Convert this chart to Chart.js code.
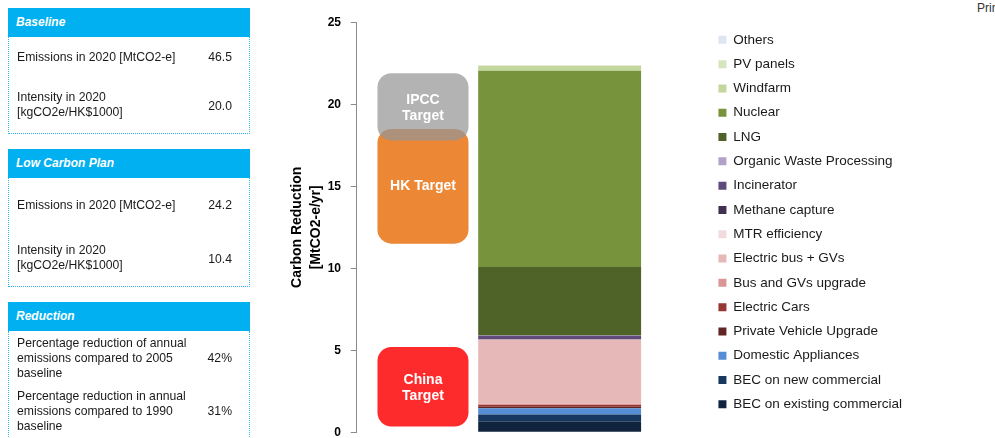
<!DOCTYPE html>
<html>
<head>
<meta charset="utf-8">
<script src="https://cdn.jsdelivr.net/npm/chart.js@4.4.0/dist/chart.umd.min.js"></script>
<style>
  html, body { margin: 0; padding: 0; background: #fff; }
  body { width: 995px; height: 438px; position: relative; overflow: hidden;
         font-family: "Liberation Sans", Arial, sans-serif; color: #1a1a1a; }
  .panel { position: absolute; left: 8px; width: 242px; z-index: 2; }
  .head { background: #00b0f0; color: #fff; font-weight: bold; font-style: italic;
          font-size: 12px; height: 29px; line-height: 29px; padding-left: 8px; }
  .body { position: relative; border: 1px dotted #2fb6ee; border-top: none; box-sizing: border-box; }
  .txt { position: absolute; left: 8px; font-size: 12.2px; line-height: 15px; white-space: nowrap; }
  .val { position: absolute; right: 17px; font-size: 12.2px; line-height: 15px; }
  #chart { position: absolute; left: 0; top: 0; z-index: 1; }
  #print { position: absolute; left: 977px; top: 1px; font-size: 12px; color: #333; white-space: nowrap; }
</style>
</head>
<body>

<div class="panel" style="top:8px">
  <div class="head">Baseline</div>
  <div class="body" style="height:97px">
    <div class="txt" style="top:13px">Emissions in 2020 [MtCO2-e]</div>
    <div class="val" style="top:13px">46.5</div>
    <div class="txt" style="top:53px">Intensity in 2020<br>[kgCO2e/HK$1000]</div>
    <div class="val" style="top:62px">20.0</div>
  </div>
</div>

<div class="panel" style="top:149px">
  <div class="head">Low Carbon Plan</div>
  <div class="body" style="height:109px">
    <div class="txt" style="top:20px">Emissions in 2020 [MtCO2-e]</div>
    <div class="val" style="top:20px">24.2</div>
    <div class="txt" style="top:65px">Intensity in 2020<br>[kgCO2e/HK$1000]</div>
    <div class="val" style="top:74px">10.4</div>
  </div>
</div>

<div class="panel" style="top:302px">
  <div class="head">Reduction</div>
  <div class="body" style="height:140px">
    <div class="txt" style="top:5px">Percentage reduction of annual<br>emissions compared to 2005<br>baseline</div>
    <div class="val" style="top:20px">42%</div>
    <div class="txt" style="top:58px">Percentage reduction in annual<br>emissions compared to 1990<br>baseline</div>
    <div class="val" style="top:73px">31%</div>
  </div>
</div>

<div id="print">Print</div>

<canvas id="chart" width="912" height="438"></canvas>

<script>
// x = 1 for the targets column, x = 2 for the plan column
const categories = ['Targets', 'Low Carbon Plan'];

// floating target boxes, [from, to] in MtCO2-e/yr
const targetNames = ['IPCC Target', 'HK Target', 'China Target'];
const targetRanges = [[17.8, 21.9], [11.5, 18.5], [0.35, 5.2]];
const targetLines = [['IPCC', 'Target'], ['HK Target'], ['China', 'Target']];
const targetColors = ['rgba(150,150,150,0.72)', '#eb8735', '#fe2b2d'];

// reduction measures, bottom of the stack first
const measureNames = [
    'BEC on existing commercial', 'BEC on new commercial', 'Domestic Appliances',
    'Private Vehicle Upgrade', 'Electric Cars', 'Bus and GVs upgrade',
    'Electric bus + GVs', 'MTR efficiency', 'Methane capture', 'Incinerator',
    'Organic Waste Processing', 'LNG', 'Nuclear', 'Windfarm', 'PV panels', 'Others'
];
const measureValues = [0.65, 0.43, 0.38, 0.1, 0.1, 0.08, 3.9, 0.02, 0.03, 0.2, 0.02, 4.17, 11.97, 0.3, 0.02, 0.01];
const measureColors = [
    '#10243e', '#17375e', '#558ed5', '#632523', '#953735', '#d99694',
    '#e6b9b8', '#f2dcdb', '#403152', '#604a7b', '#b3a2c7', '#4f6228',
    '#77933c', '#c3d69b', '#d7e4bd', '#dce6f2'
];

const yMin = 0;
const yMax = 25;
const yStep = 5;

Chart.defaults.font.family = '"Liberation Sans", Arial, sans-serif';

const datasets = [];
targetNames.forEach((name, i) => {
    datasets.push({
        label: name,
        data: [{ x: 1, y: targetRanges[i] }],
        backgroundColor: targetColors[i],
        borderWidth: 0,
        borderRadius: 14,
        borderSkipped: false,
        grouped: false,
        categoryPercentage: 1,
        barPercentage: 0.666
    });
});
measureNames.forEach((name, i) => {
    datasets.push({
        label: name,
        data: [{ x: 2, y: measureValues[i] }],
        backgroundColor: measureColors[i],
        borderWidth: 0,
        stack: 'plan',
        grouped: false,
        categoryPercentage: 1,
        barPercentage: 1.192
    });
});

// white captions inside the target boxes
const targetLabels = {
    id: 'targetLabels',
    afterDatasetsDraw(chart) {
        const ctx = chart.ctx;
        ctx.save();
        ctx.font = 'bold 14px "Liberation Sans", Arial, sans-serif';
        ctx.fillStyle = '#ffffff';
        ctx.textAlign = 'center';
        ctx.textBaseline = 'middle';
        targetLines.forEach((lines, i) => {
            const bar = chart.getDatasetMeta(i).data[0];
            const mid = (bar.y + bar.base) / 2 + (lines.length > 1 ? 1.5 : 0);
            lines.forEach((line, j) => {
                ctx.fillText(line, bar.x, mid + (j - (lines.length - 1) / 2) * 16.5);
            });
        });
        ctx.restore();
    }
};

new Chart(document.getElementById('chart'), {
    type: 'bar',
    data: { datasets: datasets },
    plugins: [targetLabels],
    options: {
        responsive: false,
        animation: false,
        layout: { padding: { top: 22.3, bottom: 5.7, left: 0, right: 0 } },
        plugins: {
            tooltip: { enabled: false },
            legend: {
                position: 'right',
                align: 'start',
                reverse: true,
                labels: {
                    boxWidth: 8,
                    boxHeight: 8,
                    padding: 10.8,
                    color: '#1a1a1a',
                    font: { size: 13.5 },
                    filter: item => item.datasetIndex >= targetNames.length
                }
            }
        },
        scales: {
            x: {
                type: 'linear',
                display: false,
                offset: false,
                min: 0.515,
                max: 3.083,
                afterBuildTicks(scale) {
                    scale.ticks = categories.map((c, i) => ({ value: i + 1 }));
                }
            },
            y: {
                min: yMin,
                max: yMax,
                border: { display: true, color: '#8c8c8c', width: 1 },
                grid: { drawOnChartArea: false, drawTicks: true, tickLength: 6, color: '#8c8c8c' },
                ticks: {
                    stepSize: yStep,
                    padding: 9.7,
                    color: '#000',
                    font: { size: 12, weight: 'bold', lineHeight: 0.9 }
                },
                title: {
                    display: true,
                    text: ['Carbon Reduction', '[MtCO2-e/yr]'],
                    color: '#000',
                    font: { size: 14, weight: 'bold', lineHeight: 1.35 },
                    padding: { top: 287.5, bottom: 0 }
                },
                afterFit(scale) {
                    scale.width = 356.7;
                    // the bottom label may hang below the plot edge
                    scale.paddingBottom = 0;
                }
            }
        }
    }
});
</script>
</body>
</html>
